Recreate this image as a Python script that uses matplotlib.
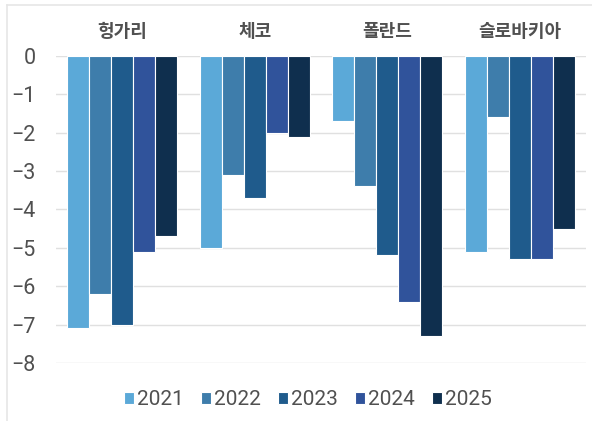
import numpy as np
import matplotlib
matplotlib.use('Agg')
from matplotlib import pyplot as plt
from matplotlib.lines import Line2D

plt.rcParams['font.family'] = ['Roboto', 'Noto Sans CJK KR', 'DejaVu Sans']

countries = ['헝가리', '체코', '폴란드', '슬로바키아']
years = ['2021', '2022', '2023', '2024', '2025']
v2021 = [-7.1, -5.0, -1.7, -5.1]
v2022 = [-6.2, -3.1, -3.4, -1.6]
v2023 = [-7.0, -3.7, -5.2, -5.3]
v2024 = [-5.1, -2.0, -6.4, -5.3]
v2025 = [-4.7, -2.1, -7.3, -4.5]
series = [v2021, v2022, v2023, v2024, v2025]
colors = ['#5ba9d8', '#3e7dab', '#1f5b8c', '#30539b', '#0f2f4e']

txt = '#505050'
fig = plt.figure(figsize=(5.92, 4.21), dpi=100)
ax = fig.add_axes([0.095, 0.138, 0.895, 0.729])

x = np.arange(len(countries))
w = 0.166
for i, vals in enumerate(series):
    ax.bar(x + (i - 2) * w, vals, w, color=colors[i], edgecolor='white',
           linewidth=0.8, label=years[i], zorder=3)

ax.set_ylim(-8, 0)
ax.set_xlim(-0.5, 3.5)
ax.set_yticks(range(-8, 1))
ax.set_yticklabels(['−%d' % -t if t < 0 else '0' for t in range(-8, 1)])
ax.yaxis.grid(True, color='#e0e0e0', linewidth=1, zorder=0)
ax.xaxis.tick_top()
ax.set_xticks(x)
ax.set_xticklabels(countries, fontsize=13, color=txt, fontweight='bold',
                   family=['Noto Sans CJK KR', 'DejaVu Sans'])
ax.tick_params(axis='x', length=0, pad=11)
ax.tick_params(axis='y', length=0, labelsize=15.5, colors=txt, pad=15)
for s in ax.spines.values():
    s.set_visible(False)

fig.legend(loc='center', bbox_to_anchor=(0.52, 0.05), ncol=5, frameon=False,
           fontsize=15, labelcolor=txt, handlelength=0.5, handleheight=0.5,
           handletextpad=0.15, columnspacing=0.8)

fig.add_artist(Line2D([7/592, 1], [1 - 5/421, 1 - 5/421], color='#e6e6e6', lw=1.2,
                      transform=fig.transFigure))
fig.add_artist(Line2D([7/592, 7/592], [0, 1 - 5/421], color='#e6e6e6', lw=1.2,
                      transform=fig.transFigure))

plt.savefig('out.png', dpi=100)
